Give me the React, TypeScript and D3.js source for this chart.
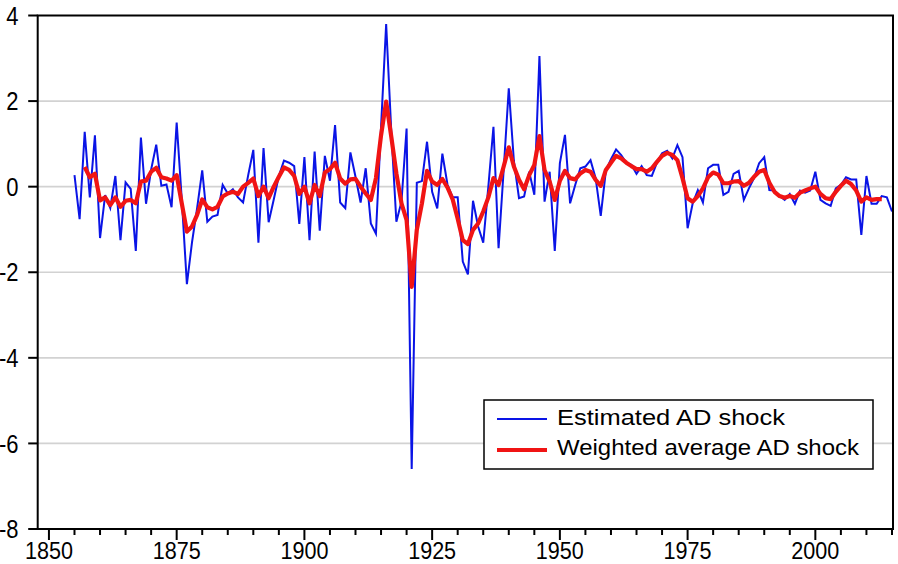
import React from 'react';
import * as d3 from 'd3';

// Estimated AD shock, annual, 1855-2015
const firstYear = 1855;
const adShock = [
  0.27, -0.76, 1.28, -0.25, 1.2, -1.2, -0.2, -0.5, 0.25, -1.25,
  0.1, -0.05, -1.5, 1.15, -0.4, 0.4, 0.98, 0.02, 0.05, -0.48,
  1.5, -0.3, -2.28, -1.3, -0.5, 0.38, -0.82, -0.7, -0.66, 0.04,
  -0.16, -0.06, -0.25, -0.37, 0.27, 0.86, -1.31, 0.9, -0.83, -0.3,
  0.25, 0.61, 0.56, 0.48, -0.87, 0.69, -1.25, 0.82, -1.03, 0.72,
  0.14, 1.44, -0.37, -0.5, 0.8, 0.23, -0.37, 0.43, -0.86, -1.1,
  1.4, 3.8, 1.3, -0.82, -0.35, 1.36, -6.6, 0.09, 0.13, 1.05,
  -0.12, -0.51, 0.77, 0.05, -0.25, -0.25, -1.75, -2.05, -0.33, -0.93,
  -1.31, 0.0, 1.4, -1.44, 0.39, 2.3, 0.6, -0.27, -0.23, 0.35,
  -0.19, 3.05, -0.35, 0.35, -1.5, 0.55, 1.21, -0.39, 0.04, 0.43,
  0.47, 0.62, 0.2, -0.68, 0.37, 0.64, 0.87, 0.74, 0.56, 0.51,
  0.3, 0.48, 0.27, 0.25, 0.56, 0.78, 0.84, 0.66, 0.97, 0.69,
  -0.97, -0.39, -0.08, -0.37, 0.43, 0.51, 0.51, -0.19, -0.12, 0.3,
  0.37, -0.31, -0.04, 0.2, 0.55, 0.69, -0.08, -0.09, -0.22, -0.31,
  -0.17, -0.4, -0.09, -0.14, -0.09, 0.35, -0.31, -0.39, -0.45, -0.04,
  0.04, 0.22, 0.17, 0.17, -1.13, 0.25, -0.4, -0.4, -0.22, -0.25,
  -0.58,
];

// Weighted average AD shock, 1857-2013
const weightedStart = 1857;
const weightedShock = [
  0.46, 0.22, 0.3, -0.32, -0.25, -0.43, -0.25, -0.47, -0.33, -0.31,
  -0.39, 0.12, 0.14, 0.35, 0.44, 0.22, 0.19, 0.14, 0.27, -0.39,
  -1.05, -0.93, -0.66, -0.3, -0.48, -0.53, -0.47, -0.23, -0.16, -0.12,
  -0.17, 0.0, 0.09, 0.19, -0.22, 0.0, -0.27, 0.0, 0.23, 0.45,
  0.39, 0.25, -0.17, 0.0, -0.39, 0.04, -0.22, 0.33, 0.41, 0.56,
  0.19, 0.07, 0.17, 0.18, 0.0, -0.16, -0.31, 0.2, 1.2, 1.99,
  1.17, 0.31, -0.39, -0.78, -2.34, -1.01, -0.39, 0.37, 0.12, 0.04,
  0.18, -0.02, -0.29, -0.75, -1.25, -1.34, -1.01, -0.86, -0.58, -0.25,
  0.2, 0.04, 0.47, 0.92, 0.47, 0.16, -0.06, 0.27, 0.51, 1.18,
  0.39, 0.12, -0.31, 0.14, 0.37, 0.2, 0.17, 0.31, 0.39, 0.35,
  0.16, 0.02, 0.39, 0.56, 0.72, 0.66, 0.56, 0.48, 0.41, 0.41,
  0.35, 0.43, 0.58, 0.72, 0.79, 0.74, 0.62, 0.2, -0.27, -0.35,
  -0.22, -0.04, 0.22, 0.33, 0.28, 0.08, 0.08, 0.12, 0.13, 0.02,
  0.09, 0.23, 0.35, 0.39, 0.09, -0.12, -0.22, -0.26, -0.22, -0.26,
  -0.14, -0.09, -0.04, 0.0, -0.17, -0.27, -0.29, -0.12, 0.02, 0.14,
  0.06, -0.09, -0.35, -0.25, -0.31, -0.29, -0.29,
];

const yTicks = [4, 2, 0, -2, -4, -6, -8];
const gridValues = [2, 0, -2, -4, -6];
const xTicks = [1850, 1875, 1900, 1925, 1950, 1975, 2000];
const minorXTicks = [
  1855, 1860, 1865, 1870, 1880, 1885, 1890, 1895, 1905, 1910, 1915, 1920,
  1930, 1935, 1940, 1945, 1955, 1960, 1965, 1970, 1980, 1985, 1990, 1995,
  2005, 2010, 2015,
];
const legendLabels = ['Estimated AD shock', 'Weighted average AD shock'];

const font = '"Liberation Sans", Arial, sans-serif';

export default function App() {
  const width = 898;
  const height = 564;
  const left = 37.7, right = 893, top = 15.5, bottom = 529;

  const x = d3.scaleLinear().domain([1847.8, 2015.2]).range([left, right]);
  const y = d3.scaleLinear().domain([-8, 4]).range([bottom, top]);

  const blueLine = d3.line<number>()
    .x((d, i) => x(firstYear + i))
    .y(d => y(d));
  const redLine = d3.line<number>()
    .x((d, i) => x(weightedStart + i))
    .y(d => y(d));

  const labelY = 550.5;

  return (
    <svg width={width} height={height}
      style={{ position: 'absolute', left: 0, top: 0, background: '#fff' }}
      fontFamily={font}>
      {/* grid */}
      {gridValues.map(v => (
        <line key={v} x1={left} x2={right} y1={y(v)} y2={y(v)}
          stroke="#d2d2d2" strokeWidth={1.6} />
      ))}

      {/* series */}
      <path d={blueLine(adShock) || ''} fill="none" stroke="#0a14e6"
        strokeWidth={2} strokeLinejoin="miter" />
      <path d={redLine(weightedShock) || ''} fill="none" stroke="#f01414"
        strokeWidth={4.2} strokeLinejoin="round" />

      {/* frame */}
      <rect x={left} y={top} width={right - left} height={bottom - top}
        fill="none" stroke="#000" strokeWidth={2} />

      {/* y axis */}
      {yTicks.map(v => (
        <g key={v}>
          <line x1={left - 9.5} x2={left} y1={y(v)} y2={y(v)} stroke="#000" strokeWidth={2} />
          <text x={18.5} y={y(v)} dy="0.36em" textAnchor="end" fontSize={22}
            transform={`translate(0 ${y(v)}) scale(1 1.15) translate(0 ${-y(v)})`}>
            {v}
          </text>
        </g>
      ))}

      {/* x axis */}
      {minorXTicks.map(t => (
        <line key={t} x1={x(t)} x2={x(t)} y1={bottom} y2={bottom + 6}
          stroke="#000" strokeWidth={2} />
      ))}
      {xTicks.map(t => (
        <g key={t}>
          <line x1={x(t)} x2={x(t)} y1={bottom} y2={bottom + 11} stroke="#000" strokeWidth={2} />
          <text x={x(t)} y={labelY} dy="0.36em" textAnchor="middle" fontSize={21}
            textLength={48} lengthAdjust="spacingAndGlyphs"
            transform={`translate(0 ${labelY}) scale(1 1.15) translate(0 ${-labelY})`}>
            {t}
          </text>
        </g>
      ))}

      {/* legend */}
      <rect x={484} y={400} width={389} height={69} fill="#fff" stroke="#000" strokeWidth={1.5} />
      <line x1={497} x2={547} y1={419} y2={419} stroke="#0a14e6" strokeWidth={2} />
      <line x1={497} x2={547} y1={450} y2={450} stroke="#f01414" strokeWidth={4.2} />
      <text x={557} y={425} fontSize={22} textLength={228} lengthAdjust="spacingAndGlyphs">
        {legendLabels[0]}
      </text>
      <text x={557} y={455} fontSize={22} textLength={302} lengthAdjust="spacingAndGlyphs">
        {legendLabels[1]}
      </text>
    </svg>
  );
}
